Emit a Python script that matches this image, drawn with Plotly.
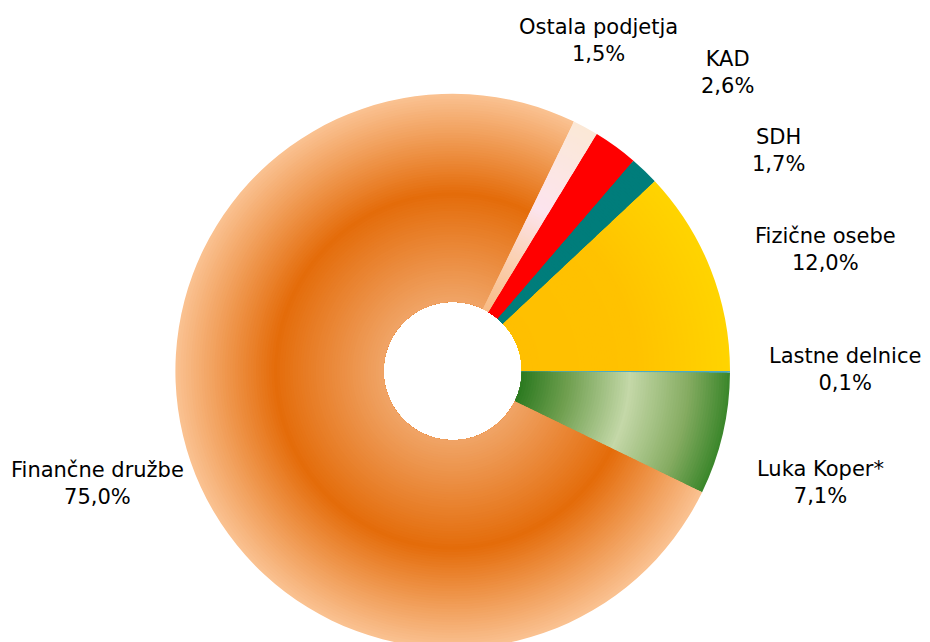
import plotly.graph_objects as go

# ---- data ----
categories = ["Lastne delnice", "Luka Koper*", "Finančne družbe",
              "Ostala podjetja", "KAD", "SDH", "Fizične osebe"]
values = [0.1, 7.1, 75.0, 1.5, 2.6, 1.7, 12.0]

# ---- style ----
W, H = 930, 642
OFF = 8               # default body margin of the page (px)
PAGE_CX, PAGE_CY = 452.7, 371.0   # desired centre in page px
CX = PAGE_CX - OFF
CYB = H - (PAGE_CY - OFF)
R_OUT = 277.3
R_HOLE = 69.2
N_RINGS = 80

# radial gradient stops (t = 0 at hole edge, 1 at outer edge)
GRAD = {
    "Lastne delnice": [(0, "#4BACC6"), (1, "#4BACC6")],
    "Luka Koper*": [(0, "#2B7A20"), (0.22, "#6E9E4E"), (0.52, "#C4D8A8"),
                    (0.8, "#86AC62"), (1, "#3A862A")],
    "Finančne družbe": [(0, "#F0A466"), (0.52, "#E46C0A"), (1, "#FAC292")],
    "Ostala podjetja": [(0, "#F8BC86"), (0.3, "#FBD2B6"), (0.55, "#FCE4EE"),
                        (1, "#FBE8D6")],
    "KAD": [(0, "#FF0000"), (1, "#FF0000")],
    "SDH": [(0, "#007D7B"), (1, "#007D7B")],
    "Fizične osebe": [(0, "#FFBF00"), (0.55, "#FFC200"), (1, "#FFD400")],
}

# label block centres in page px (x from left, y from top)
LABEL_POS = {
    "Lastne delnice": (845, 370),
    "Luka Koper*": (820, 482),
    "Finančne družbe": (97, 483),
    "Ostala podjetja": (598, 40),
    "KAD": (727, 72),
    "SDH": (778, 151),
    "Fizične osebe": (825, 249),
}


def hex2rgb(h):
    h = h.lstrip("#")
    return [int(h[i:i + 2], 16) for i in (0, 2, 4)]


def color_at(stops, t):
    for (t0, c0), (t1, c1) in zip(stops[:-1], stops[1:]):
        if t0 <= t <= t1:
            f = 0 if t1 == t0 else (t - t0) / (t1 - t0)
            a, b = hex2rgb(c0), hex2rgb(c1)
            rgb = [round(a[i] + (b[i] - a[i]) * f) for i in range(3)]
            return "rgb(%d,%d,%d)" % tuple(rgb)
    return stops[-1][1]


fig = go.Figure()
for k in range(N_RINGS, 0, -1):
    r = R_HOLE + (R_OUT - R_HOLE) * k / N_RINGS
    t = (k - 0.5) / N_RINGS
    cols = [color_at(GRAD[c], t) for c in categories]
    fig.add_trace(go.Pie(
        labels=categories, values=values, sort=False,
        direction="clockwise", rotation=90,
        hole=R_HOLE / r,
        domain=dict(x=[max(0, (CX - r) / W), min(1, (CX + r) / W)],
                    y=[max(0, (CYB - r) / H), min(1, (CYB + r) / H)]),
        marker=dict(colors=cols, line=dict(width=0)),
        textinfo="none", hoverinfo="label+percent", showlegend=False,
    ))

for c, v in zip(categories, values):
    px, py = LABEL_POS[c]
    fig.add_annotation(
        x=(px - OFF) / W, y=1 - (py - OFF) / H, xref="paper", yref="paper",
        text=f"{c}<br>{v:.1f}%".replace(".", ","),
        showarrow=False, xanchor="center", yanchor="middle", align="center",
        font=dict(family="DejaVu Sans", size=21, color="black"),
    )

fig.update_layout(
    width=W, height=H, margin=dict(l=0, r=0, t=0, b=0),
    paper_bgcolor="white", plot_bgcolor="white", showlegend=False,
)

fig.write_html("out.html")
